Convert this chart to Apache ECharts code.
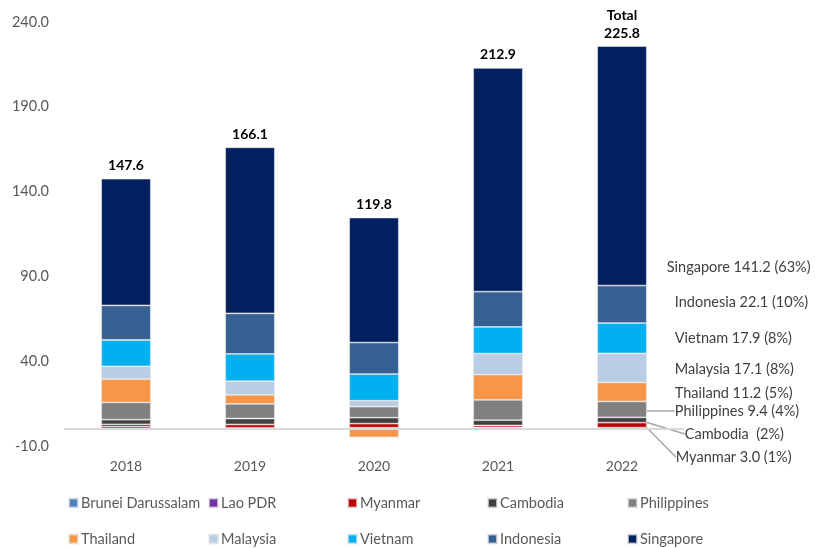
<!DOCTYPE html>
<html><head><meta charset="utf-8">
<script src="https://cdn.jsdelivr.net/npm/echarts@6/dist/echarts.min.js"></script>
<style>html,body{margin:0;padding:0;background:#fff}#c{width:815px;height:548px}</style>
</head><body><div id="c"></div>
<script>
const categories = ['2018','2019','2020','2021','2022'];
const seriesNames = ['Brunei Darussalam','Lao PDR','Myanmar','Cambodia','Philippines','Thailand','Malaysia','Vietnam','Indonesia','Singapore'];
const brunei      = [0.2, 0.2, 0.2, 0.2, 0.2];
const lao         = [1.2, 0.5, 0.6, 0.7, 0.6];
const myanmar     = [1.4, 2.0, 2.4, 1.2, 3.0];
const cambodia    = [2.7, 3.5, 3.5, 3.1, 3.1];
const philippines = [10.2, 8.6, 6.5, 12.0, 9.4];
const thailand    = [13.7, 5.3, -4.9, 14.9, 11.2];
const malaysia    = [7.6, 8.1, 3.5, 12.4, 17.1];
const vietnam     = [15.5, 16.1, 15.7, 15.7, 17.9];
const indonesia   = [20.4, 23.9, 18.6, 20.8, 22.1];
const singapore   = [74.7, 97.9, 73.7, 131.9, 141.2];
const totals      = ['147.6','166.1','119.8','212.9','Total\n225.8'];
const shareLabels = ['', '', 'Myanmar 3.0 (1%)', 'Cambodia  (2%)', 'Philippines 9.4 (4%)', 'Thailand 11.2 (5%)', 'Malaysia 17.1 (8%)', 'Vietnam 17.9 (8%)', 'Indonesia 22.1 (10%)', 'Singapore 141.2 (63%)'];
const yTicks = {min: -10, max: 240, interval: 50};

const values = [brunei, lao, myanmar, cambodia, philippines, thailand, malaysia, vietnam, indonesia, singapore];
const colors = ['#4F81BD','#7030A0','#C00000','#404040','#808080','#F79646','#B9CDE5','#00B0F0','#366092','#002060'];
// label placement for the 2022 annotations (pixel y of text centre, x offset from bar)
const labelY = [null, null, 457, 434, 411, 393, 369, 338, 302, 267];
const labelDX = [0, 0, 29, 38, 28, 28, 28, 28, 28, 20];
const FONT = 'Lato, "Noto Sans", sans-serif';
const ANN_SIZE = 14.5;

const chart = echarts.init(document.getElementById('c'), null, {renderer: 'canvas'});
const series = values.map((arr, i) => {
  const s = {
    name: seriesNames[i], type: 'bar', stack: 'total',
    barCategoryGap: '60%',
    itemStyle: {color: colors[i], borderColor: 'rgba(230,230,230,0.7)', borderWidth: 0.8},
    emphasis: {disabled: true},
    data: arr.map((v, j) => {
      const d = {value: v};
      if (j === 4 && shareLabels[i]) {
        d.label = {show: true, position: 'right', formatter: shareLabels[i], color: '#404040', fontSize: ANN_SIZE, fontFamily: FONT};
        d.labelLine = {show: i <= 4, lineStyle: {color: '#A6A6A6', width: 1.5}};
      }
      return d;
    }),
    labelLayout: function (p) {
      if (p.dataIndex !== 4 || !labelY[i]) return {};
      return {x: p.rect.x + p.rect.width + labelDX[i], y: labelY[i], align: 'left', verticalAlign: 'middle'};
    },
    labelLine: {show: false}
  };
  if (i === 9) {
    const totStyle = {show: true, position: 'top', distance: 4, fontWeight: 'bold', fontSize: 14, color: '#000', fontFamily: FONT, lineHeight: 18};
    s.label = Object.assign({}, totStyle, {formatter: p => totals[p.dataIndex]});
    s.data = arr.map((v, j) => {
      if (j === 4) return {value: v, label: Object.assign({}, totStyle, {formatter: totals[4]})};
      return v;
    });
    s.labelLayout = null;
  }
  if (i === 0) {
    s.markLine = {silent: true, symbol: 'none', label: {show: false}, lineStyle: {color: '#D9D9D9', width: 2, type: 'solid'}, data: [{yAxis: 0}], animation: false};
  }
  return s;
});

// Singapore annotation as separate invisible series label
series.push({
  name: 'sgLabel', type: 'bar', stack: 'total', barCategoryGap: '60%',
  itemStyle: {color: 'transparent'}, emphasis: {disabled: true}, silent: true,
  data: [0,0,0,0,{value: 0, label: {show: true, position: 'right', formatter: shareLabels[9], color: '#404040', fontSize: ANN_SIZE, fontFamily: FONT}}],
  labelLayout: function (p) {
    if (p.dataIndex !== 4) return {};
    return {x: p.rect.x + p.rect.width + labelDX[9], y: labelY[9], align: 'left', verticalAlign: 'middle'};
  }
});

const colGroups = [[0,5],[1,6],[2,7],[3,8],[4,9]];
const colLeft = [68, 208, 347, 487, 627];
const legends = colGroups.map((g, k) => ({
  orient: 'vertical', left: colLeft[k], top: 495, itemGap: 20, height: 60,
  itemWidth: 9, itemHeight: 9, icon: 'rect',
  selectedMode: false, padding: 0,
  textStyle: {fontSize: 14.5, color: '#595959', fontFamily: FONT, lineHeight: 16, padding: [0,0,0,-2]},
  data: g.map(i => seriesNames[i])
}));

chart.setOption({
  animation: false,
  backgroundColor: '#fff',
  grid: {left: 64, right: 131, top: 22, bottom: 102, containLabel: false},
  legend: legends,
  xAxis: {
    type: 'category', data: categories,
    axisLine: {show: false, onZero: false}, axisTick: {show: false},
    axisLabel: {color: '#595959', fontSize: 14, fontFamily: FONT, margin: 13}
  },
  yAxis: {
    type: 'value', min: yTicks.min, max: yTicks.max, interval: yTicks.interval,
    splitLine: {show: false}, axisLine: {show: false}, axisTick: {show: false},
    axisLabel: {color: '#595959', fontSize: 14.5, fontFamily: FONT, margin: 15, formatter: v => v.toFixed(1)}
  },
  series: series
});
</script></body></html>
